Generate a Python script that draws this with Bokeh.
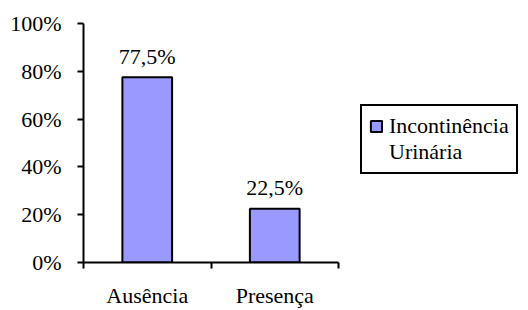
from bokeh.plotting import figure
from bokeh.models import ColumnDataSource, FixedTicker, Legend, LegendItem, Range1d
from bokeh.core.properties import value
from bokeh.embed import file_html
from bokeh.resources import INLINE

categories = ["Ausência", "Presença"]
percentages = [77.5, 22.5]
value_labels = ["77,5%", "22,5%"]
y_ticks = [0, 20, 40, 60, 80, 100]
y_tick_labels = ["0%", "20%", "40%", "60%", "80%", "100%"]
legend_lines = ["Incontinência", "Urinária"]

FONT = "'Liberation Serif', 'Times New Roman', serif"
FS = "22px"
BAR_FILL = "#9999FF"

W, H = 528, 310
LEFT, TOP, BOTTOM = 83, 23, 45
CAT_PX = 127.5  # pixel width of one category slot
frame_w = W - LEFT
n = len(categories)

x_centers = [i + 0.5 for i in range(n)]
src = ColumnDataSource(dict(x=x_centers, top=percentages, label=value_labels))

p = figure(width=W, height=H,
           min_border_left=LEFT, min_border_right=0, min_border_top=TOP, min_border_bottom=BOTTOM,
           x_range=Range1d(0, frame_w / CAT_PX), y_range=Range1d(0, 100),
           output_backend="svg", toolbar_location=None,
           background_fill_color="white", border_fill_color="white")
p.outline_line_color = None
p.xgrid.visible = False
p.ygrid.visible = False

r = p.vbar(x="x", top="top", width=0.39, source=src, fill_color=BAR_FILL,
           line_color="black", line_width=2)
p.text(x="x", y="top", text="label", source=src, text_font=value(FONT),
       text_font_size=FS, text_align="center", text_baseline="alphabetic",
       y_offset=-21, text_color="black")

# x axis
p.xaxis.bounds = (0, n)
p.xaxis.ticker = FixedTicker(ticks=x_centers, minor_ticks=list(range(n + 1)))
p.xaxis.major_label_overrides = {x: c for x, c in zip(x_centers, categories)}
p.xaxis.major_tick_line_color = None
p.xaxis.major_tick_out = 0
p.xaxis.major_tick_in = 0
p.xaxis.minor_tick_out = 6
p.xaxis.minor_tick_in = 0
p.xaxis.minor_tick_line_color = "black"
p.xaxis.minor_tick_line_width = 2
p.xaxis.axis_line_width = 2
p.xaxis.axis_line_color = "black"
p.xaxis.major_label_standoff = 14
p.xaxis.major_label_text_font = FONT
p.xaxis.major_label_text_font_size = FS
p.xaxis.major_label_text_color = "black"

# y axis
p.yaxis.ticker = FixedTicker(ticks=y_ticks)
p.yaxis.major_label_overrides = {t: l for t, l in zip(y_ticks, y_tick_labels)}
p.yaxis.major_tick_out = 6
p.yaxis.major_tick_in = 0
p.yaxis.minor_tick_line_color = None
p.yaxis.major_tick_line_width = 2
p.yaxis.major_tick_line_color = "black"
p.yaxis.axis_line_width = 2
p.yaxis.axis_line_color = "black"
p.yaxis.major_label_standoff = 16
p.yaxis.major_label_text_font = FONT
p.yaxis.major_label_text_font_size = FS
p.yaxis.major_label_text_color = "black"

dummy = p.vbar(x=[], top=[], width=0.39, fill_alpha=0, line_alpha=0)

legend = Legend(items=[LegendItem(label=legend_lines[0], renderers=[r]),
                       LegendItem(label=legend_lines[1], renderers=[dummy])],
                location=(277, 88))
legend.label_text_font = FONT
legend.label_text_font_size = FS
legend.label_text_color = "black"
legend.border_line_color = "black"
legend.border_line_width = 2
legend.border_line_alpha = 1
legend.background_fill_color = "white"
legend.background_fill_alpha = 1
legend.padding = 7
legend.spacing = 0
legend.margin = 0
legend.label_standoff = 6
legend.label_height = 24
legend.glyph_height = 14
legend.glyph_width = 14
p.add_layout(legend)

open("out.html", "w").write(file_html(p, INLINE))
